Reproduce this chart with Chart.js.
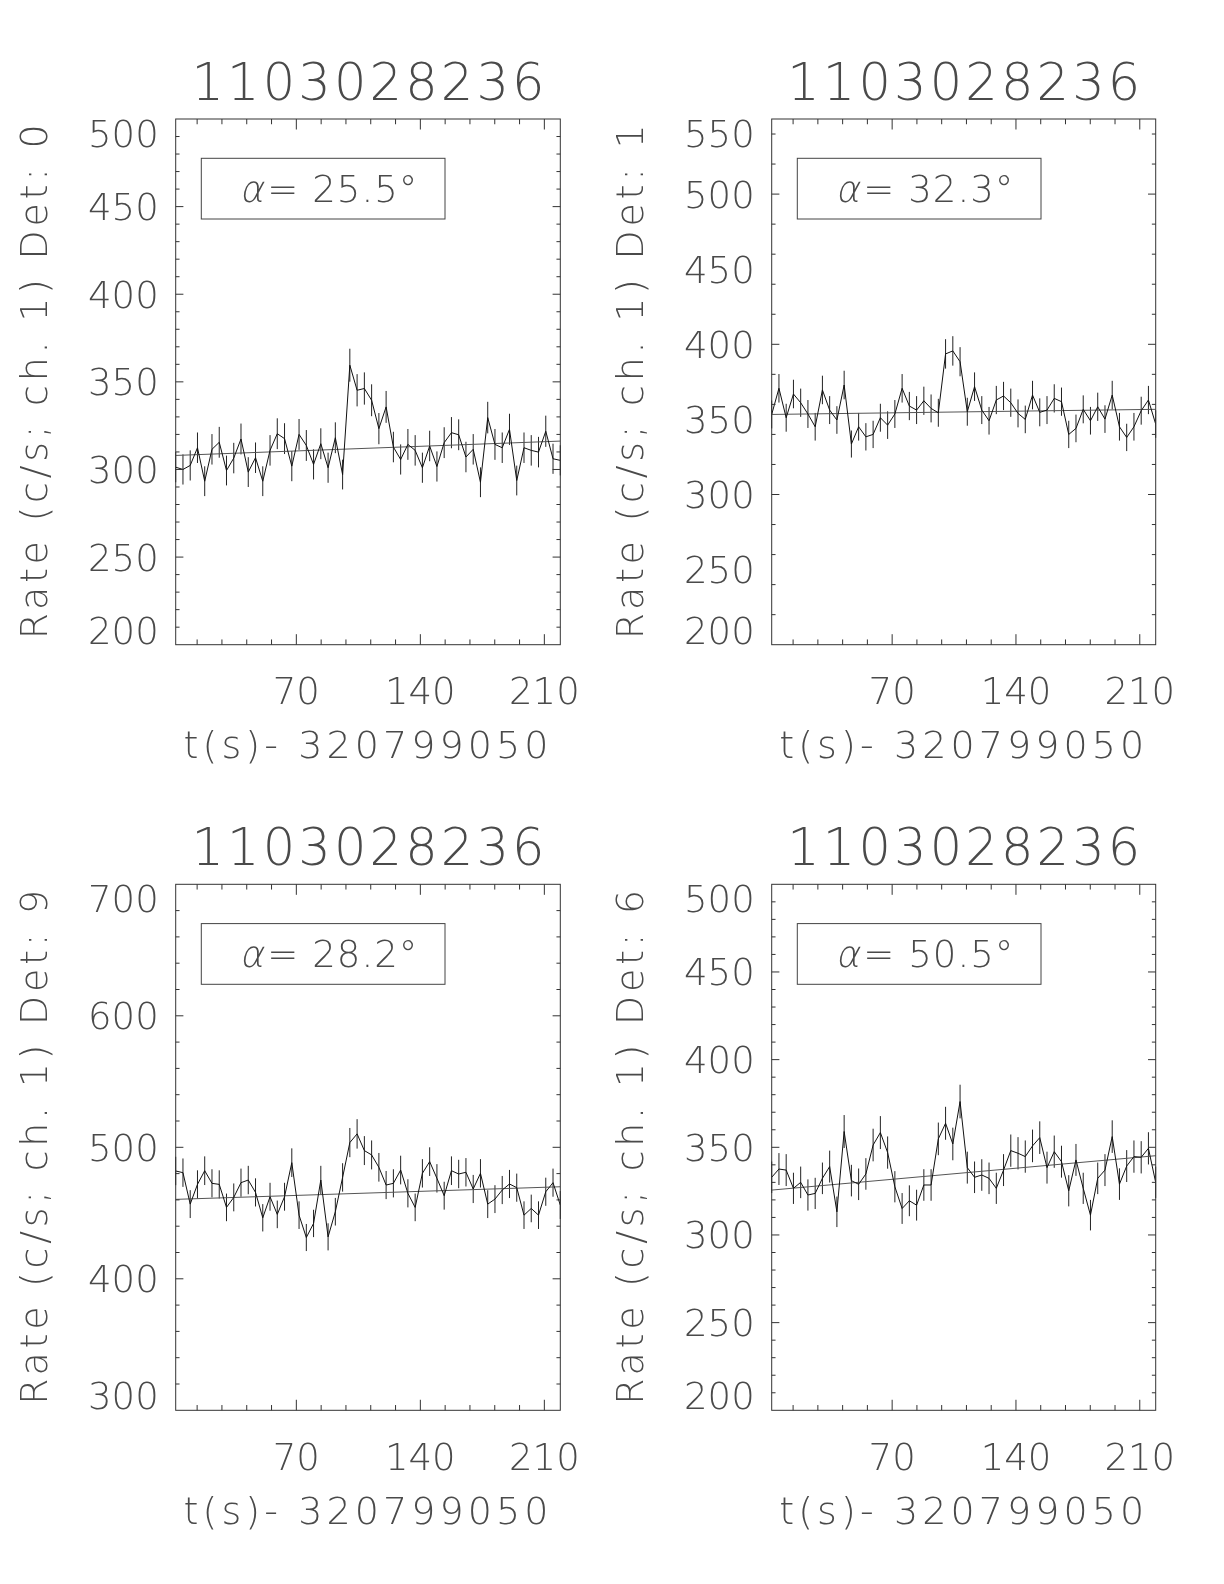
<!DOCTYPE html>
<html>
<head>
<meta charset="utf-8">
<title>1103028236 light curves</title>
<script src="https://cdn.jsdelivr.net/npm/chart.js@4.4.1/dist/chart.umd.min.js"></script>
<style>
  html, body { margin: 0; padding: 0; background: #fff; }
  #page { position: relative; width: 1224px; height: 1584px; }
  #page canvas { position: absolute; }
</style>
</head>
<body>
<div id="page">
  <canvas id="det0" width="612" height="792" style="left:0;top:0"></canvas>
  <canvas id="det1" width="612" height="792" style="left:612px;top:0"></canvas>
  <canvas id="det9" width="612" height="792" style="left:0;top:792px"></canvas>
  <canvas id="det6" width="612" height="792" style="left:612px;top:792px"></canvas>
</div>
<script>
// ---- data ----
const TRIGGER = '1103028236';
const T_OFFSET = '320799050';
const X_MIN = 1.9;
const X_MAX = 219.0;
const X_TICKS = [14, 28, 42, 56, 70, 84, 98, 112, 126, 140, 154, 168, 182, 196, 210];
const X_LABELS = [70, 140, 210];

// bin times (s) - 320799050
const TIME = [
  1.90, 6.00, 10.09, 14.19, 18.28, 22.38, 26.48, 30.57, 34.67, 38.76,
  42.86, 46.96, 51.05, 55.15, 59.24, 63.34, 67.44, 71.53, 75.63, 79.72,
  83.82, 87.92, 92.01, 96.11, 100.20, 104.30, 108.40, 112.49, 116.59, 120.68,
  124.78, 128.88, 132.97, 137.07, 141.16, 145.26, 149.36, 153.45, 157.55, 161.64,
  165.74, 169.84, 173.93, 178.03, 182.12, 186.22, 190.32, 194.41, 198.51, 202.60,
  206.70, 210.80, 214.89, 218.99
];

const DETECTORS = ['0', '1', '9', '6'];
const ALPHAS = ['25.5', '32.3', '28.2', '50.5'];

const Y_TICKS_DET0 = [200, 250, 300, 350, 400, 450, 500];
const Y_TICKS_DET1 = [200, 250, 300, 350, 400, 450, 500, 550];
const Y_TICKS_DET9 = [300, 400, 500, 600, 700];
const Y_TICKS_DET6 = [200, 250, 300, 350, 400, 450, 500];

const RATE_DET0 = [
  301.3, 300.0, 302.3, 312.4, 293.3, 311.5, 315.5, 299.4, 306.5, 317.4,
  298.5, 306.7, 293.3, 310.9, 320.4, 317.6, 301.9, 320.0, 313.7, 302.9,
  314.7, 301.0, 318.1, 297.1, 359.5, 345.2, 346.2, 339.5, 323.3, 335.7,
  312.8, 305.7, 314.3, 310.9, 301.0, 313.4, 301.7, 315.3, 321.0, 319.8,
  307.1, 311.5, 292.7, 329.6, 314.3, 312.4, 322.9, 293.7, 312.4, 310.9,
  309.9, 321.8, 306.1, 305.2
];
const ERR_DET0 = [
  8.6, 8.6, 8.6, 8.7, 8.5, 8.7, 8.8, 8.5, 8.7, 8.8,
  8.5, 8.7, 8.5, 8.7, 8.8, 8.8, 8.6, 8.8, 8.8, 8.6,
  8.8, 8.6, 8.8, 8.5, 9.4, 9.2, 9.2, 9.1, 8.9, 9.1,
  8.7, 8.6, 8.8, 8.7, 8.6, 8.7, 8.6, 8.8, 8.9, 8.8,
  8.7, 8.7, 8.5, 9.0, 8.8, 8.7, 8.9, 8.5, 8.7, 8.7,
  8.7, 8.9, 8.6, 8.6
];
const FIT_DET0 = [308.0, 316.2];

const RATE_DET1 = [
  353.3, 370.7, 351.1, 366.9, 361.1, 353.6, 345.1, 369.6, 356.2, 349.6,
  372.9, 333.6, 345.1, 338.4, 340.0, 351.1, 346.2, 353.6, 370.7, 358.9,
  356.2, 362.4, 357.3, 354.4, 393.6, 395.6, 388.4, 355.1, 371.8, 356.2,
  349.1, 362.9, 365.6, 361.1, 354.0, 350.0, 366.2, 354.7, 356.2, 364.0,
  361.8, 340.0, 344.0, 356.7, 349.1, 358.4, 350.2, 366.2, 345.1, 338.0,
  345.1, 355.8, 362.9, 346.9
];
const ERR_DET1 = [
  9.3, 9.5, 9.3, 9.5, 9.4, 9.3, 9.2, 9.5, 9.3, 9.2,
  9.5, 9.0, 9.2, 9.1, 9.1, 9.3, 9.2, 9.3, 9.5, 9.4,
  9.3, 9.4, 9.3, 9.3, 9.8, 9.8, 9.7, 9.3, 9.5, 9.3,
  9.2, 9.4, 9.4, 9.4, 9.3, 9.2, 9.5, 9.3, 9.3, 9.4,
  9.4, 9.1, 9.2, 9.3, 9.2, 9.4, 9.2, 9.5, 9.2, 9.1,
  9.2, 9.3, 9.4, 9.2
];
const FIT_DET1 = [353.3, 356.7];

const RATE_DET9 = [
  482.0, 480.7, 456.8, 471.8, 482.2, 472.6, 471.8, 454.3, 461.9, 473.1,
  475.1, 465.7, 446.4, 462.4, 449.0, 462.4, 488.3, 448.4, 431.4, 442.1,
  475.1, 431.9, 451.0, 477.1, 503.6, 510.2, 497.5, 494.2, 484.8, 471.3,
  472.6, 482.7, 465.0, 454.3, 480.2, 489.1, 476.4, 463.2, 482.2, 479.7,
  481.0, 468.3, 480.2, 456.8, 460.6, 467.5, 472.1, 469.3, 448.4, 453.5,
  448.4, 466.2, 473.1, 456.1
];
const ERR_DET9 = [
  10.8, 10.8, 10.6, 10.7, 10.9, 10.7, 10.7, 10.5, 10.6, 10.7,
  10.8, 10.7, 10.4, 10.6, 10.5, 10.6, 10.9, 10.5, 10.3, 10.4,
  10.8, 10.3, 10.5, 10.8, 11.1, 11.2, 11.0, 11.0, 10.9, 10.7,
  10.7, 10.9, 10.7, 10.5, 10.8, 10.9, 10.8, 10.6, 10.9, 10.8,
  10.8, 10.7, 10.8, 10.6, 10.6, 10.7, 10.7, 10.7, 10.5, 10.5,
  10.5, 10.7, 10.7, 10.6
];
const FIT_DET9 = [460.4, 470.0];

const RATE_DET6 = [
  332.9, 337.6, 337.0, 326.6, 330.0, 322.8, 323.7, 332.3, 339.0, 313.2,
  359.0, 331.0, 328.9, 334.8, 351.3, 358.4, 347.0, 327.5, 315.1, 319.5,
  317.0, 328.5, 328.5, 354.8, 363.7, 351.9, 376.1, 338.4, 332.9, 334.2,
  332.3, 326.6, 337.0, 348.1, 346.6, 344.7, 350.8, 355.5, 338.4, 347.5,
  341.8, 325.2, 342.8, 326.6, 311.3, 332.3, 337.0, 356.1, 329.0, 339.3,
  344.7, 344.3, 349.4, 330.0
];
const ERR_DET6 = [
  9.0, 9.1, 9.1, 8.9, 9.0, 8.9, 8.9, 9.0, 9.1, 8.7,
  9.4, 9.0, 9.0, 9.0, 9.3, 9.4, 9.2, 8.9, 8.8, 8.8,
  8.8, 9.0, 9.0, 9.3, 9.4, 9.3, 9.6, 9.1, 9.0, 9.0,
  9.0, 8.9, 9.1, 9.2, 9.2, 9.2, 9.3, 9.3, 9.1, 9.2,
  9.1, 8.9, 9.1, 8.9, 8.7, 9.0, 9.1, 9.3, 9.0, 9.1,
  9.2, 9.2, 9.2, 9.0
];
const FIT_DET6 = [325.6, 345.2];

// ---- layout / style ----
const FONT = '"DejaVu Sans", "Liberation Sans", sans-serif';
const INK = '#4a4a4a';
const CAP = 0.729; // cap height / em for DejaVu Sans
const TICK_FRAC = 0.02;

const PANELS = [
  { canvas: 'det0', det: DETECTORS[0], alpha: ALPHAS[0], rate: RATE_DET0, err: ERR_DET0, fit: FIT_DET0, yTicks: Y_TICKS_DET0,
    origin: { x: 0, y: 0 }, frame: { left: 175.7, top: 119, right: 560.3, bottom: 644.7 } },
  { canvas: 'det1', det: DETECTORS[1], alpha: ALPHAS[1], rate: RATE_DET1, err: ERR_DET1, fit: FIT_DET1, yTicks: Y_TICKS_DET1,
    origin: { x: 612, y: 0 }, frame: { left: 771.7, top: 119, right: 1155.7, bottom: 644.7 } },
  { canvas: 'det9', det: DETECTORS[2], alpha: ALPHAS[2], rate: RATE_DET9, err: ERR_DET9, fit: FIT_DET9, yTicks: Y_TICKS_DET9,
    origin: { x: 0, y: 792 }, frame: { left: 175.7, top: 884.3, right: 560.3, bottom: 1410.3 } },
  { canvas: 'det6', det: DETECTORS[3], alpha: ALPHAS[3], rate: RATE_DET6, err: ERR_DET6, fit: FIT_DET6, yTicks: Y_TICKS_DET6,
    origin: { x: 612, y: 792 }, frame: { left: 771.7, top: 884.3, right: 1155.7, bottom: 1410.3 } },
];

// text placed by the centre of its cap height; optional fit to a width via letter spacing
function capText(ctx, str, x, cy, size, opt = {}) {
  ctx.save();
  ctx.font = '200 ' + size + 'px ' + FONT;
  ctx.fillStyle = INK;
  ctx.textAlign = opt.align || 'left';
  ctx.textBaseline = 'alphabetic';
  if (opt.width) {
    ctx.letterSpacing = '0px';
    const w = ctx.measureText(str).width;
    const n = [...str].length;
    const sp = n > 1 ? (opt.width - w) / (n - 1) : 0;
    ctx.letterSpacing = sp.toFixed(2) + 'px';
    if (ctx.textAlign === 'center') x += sp / 2;
  }
  const by = cy + size * CAP / 2;
  if (opt.slant) {
    // fake italic from the light upright face
    ctx.translate(x, by);
    ctx.transform(1, 0, -opt.slant, 1, 0, 0);
    ctx.fillText(str, 0, 0);
  } else {
    ctx.fillText(str, x, by);
  }
  ctx.restore();
}

function idlAxes(p) {
  return {
    id: 'idlAxes',
    beforeDatasetsDraw(chart) {
      // error bars
      const { ctx } = chart;
      const xs = chart.scales.x, ys = chart.scales.y;
      ctx.save();
      ctx.strokeStyle = '#222';
      ctx.lineWidth = 1;
      ctx.beginPath();
      TIME.forEach((t, i) => {
        const px = xs.getPixelForValue(t);
        ctx.moveTo(px, ys.getPixelForValue(p.rate[i] - p.err[i]));
        ctx.lineTo(px, ys.getPixelForValue(p.rate[i] + p.err[i]));
      });
      ctx.stroke();
      ctx.restore();
    },
    afterDraw(chart) {
      const { ctx, chartArea: a } = chart;
      const xs = chart.scales.x, ys = chart.scales.y;
      const w = a.right - a.left, h = a.bottom - a.top;
      const cx = (a.left + a.right) / 2;

      ctx.save();
      ctx.strokeStyle = '#333';
      ctx.lineWidth = 1;
      ctx.strokeRect(a.left, a.top, w, h);

      // inward ticks on all four sides
      const xLen = h * TICK_FRAC, yLen = w * TICK_FRAC;
      ctx.beginPath();
      xs.ticks.forEach(t => {
        const px = xs.getPixelForValue(t.value);
        const len = X_LABELS.includes(t.value) ? xLen : xLen / 2;
        ctx.moveTo(px, a.bottom); ctx.lineTo(px, a.bottom - len);
        ctx.moveTo(px, a.top); ctx.lineTo(px, a.top + len);
      });
      ys.ticks.forEach(t => {
        if (t.value <= ys.min || t.value >= ys.max) return;
        const py = ys.getPixelForValue(t.value);
        const len = p.yTicks.includes(t.value) ? yLen : yLen / 2;
        ctx.moveTo(a.left, py); ctx.lineTo(a.left + len, py);
        ctx.moveTo(a.right, py); ctx.lineTo(a.right - len, py);
      });
      ctx.stroke();

      // legend box
      const bx = a.left + 25.6, by = a.top + 39.3, bw = 243.7, bh = 60.7;
      ctx.strokeStyle = '#444';
      ctx.strokeRect(bx, by, bw, bh);
      ctx.restore();

      capText(ctx, 'α', bx + 38, by + bh / 2, 37, { slant: 0.2 });
      capText(ctx, '= ' + p.alpha + '°', bx + 66, by + bh / 2, 37, { width: 150 });

      // y tick labels (end labels kept inside the frame height)
      const half = 14.5;
      p.yTicks.forEach(v => {
        let py = ys.getPixelForValue(v);
        py = Math.min(Math.max(py, a.top + half), a.bottom - half);
        capText(ctx, String(v), a.left - 17, py, 37, { align: 'right' });
      });
      // x tick labels
      X_LABELS.forEach(v => {
        capText(ctx, String(v), xs.getPixelForValue(v), a.bottom + 46, 37, { align: 'center' });
      });

      // titles
      capText(ctx, TRIGGER, cx, a.top - 37.4, 51, { align: 'center', width: 353 });
      capText(ctx, 't(s)- ' + T_OFFSET, cx - 2, a.bottom + 99.5, 38, { align: 'center', width: 365 });

      ctx.save();
      ctx.translate(a.left - 143, (a.top + a.bottom) / 2);
      ctx.rotate(-Math.PI / 2);
      capText(ctx, 'Rate (c/s; ch. 1) Det: ' + p.det, 0, 0, 38, { align: 'center', width: 515 });
      ctx.restore();
    }
  };
}

PANELS.forEach(p => {
  const f = p.frame;
  const yMin = p.yTicks[0], yMax = p.yTicks[p.yTicks.length - 1];
  new Chart(document.getElementById(p.canvas), {
    type: 'line',
    data: {
      datasets: [
        {
          label: 'Det ' + p.det,
          data: TIME.map((t, i) => ({ x: t, y: p.rate[i] })),
          borderColor: '#111',
          borderWidth: 1,
          pointRadius: 0,
          tension: 0,
        },
        {
          label: 'fit',
          data: [{ x: TIME[0], y: p.fit[0] }, { x: TIME[TIME.length - 1], y: p.fit[1] }],
          borderColor: '#555',
          borderWidth: 1,
          pointRadius: 0,
        },
      ],
    },
    options: {
      responsive: false,
      animation: false,
      devicePixelRatio: 1,
      layout: {
        padding: {
          left: f.left - p.origin.x,
          top: f.top - p.origin.y,
          right: p.origin.x + 612 - f.right,
          bottom: p.origin.y + 792 - f.bottom,
        },
      },
      plugins: { legend: { display: false }, title: { display: false }, tooltip: { enabled: false } },
      scales: {
        x: {
          type: 'linear', display: false, min: X_MIN, max: X_MAX,
          afterBuildTicks: scale => { scale.ticks = X_TICKS.map(v => ({ value: v })); },
        },
        y: {
          type: 'linear', display: false, min: yMin, max: yMax,
          ticks: { stepSize: 10 },
        },
      },
    },
    plugins: [idlAxes(p)],
  });
});
</script>
</body>
</html>
